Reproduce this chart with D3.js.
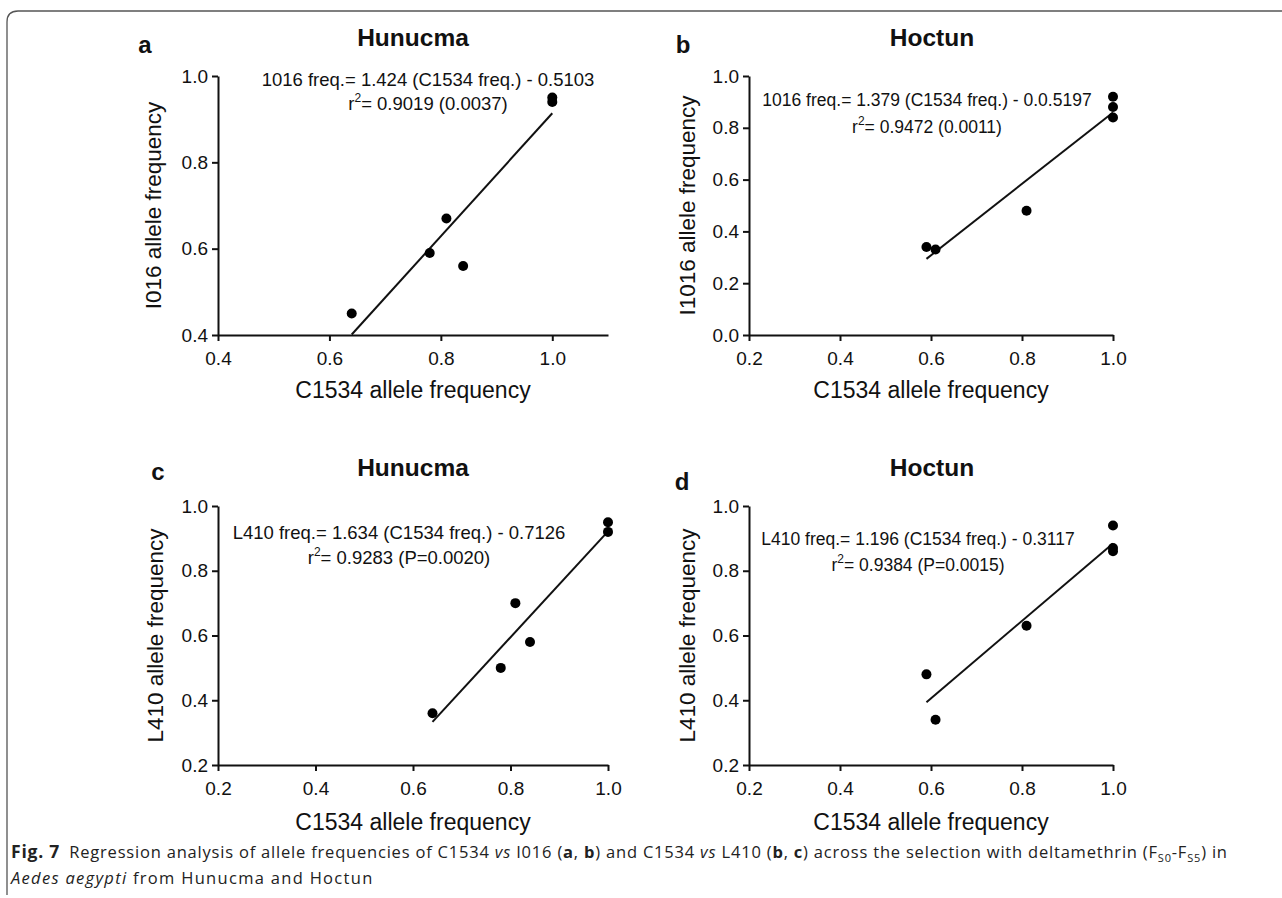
<!DOCTYPE html>
<html lang="en">
<head>
<meta charset="UTF-8">
<style>
  body { margin: 0; background: #fff; }
  svg { display: block; }
  text { font-family: "Liberation Sans", Arial, sans-serif; fill: #111; }
  .axis path, .axis line { stroke: #111; stroke-width: 2px; }
  .fit { stroke: #111; stroke-width: 2px; fill: none; }
  .caption { font-family: "Open Sans", sans-serif; font-size: 16.5px; fill: #222; letter-spacing: 0.8px; }
</style>
</head>
<body>
<script src="https://cdn.jsdelivr.net/npm/d3@7"></script>
<script>
// panel data (x = C1534 freq, y = other allele freq)
var panelLetters = ['a', 'b', 'c', 'd'];
var panelTitles = ['Hunucma', 'Hoctun', 'Hunucma', 'Hoctun'];
var yLabels = ['I016 allele frequency', 'I1016 allele frequency', 'L410 allele frequency', 'L410 allele frequency'];
var xLabel = 'C1534 allele frequency';

var aX = [0.64, 0.78, 0.81, 0.84, 1.0, 1.0];
var aY = [0.45, 0.59, 0.67, 0.56, 0.94, 0.95];
var bX = [0.59, 0.61, 0.81, 1.0, 1.0, 1.0];
var bY = [0.34, 0.33, 0.48, 0.92, 0.88, 0.84];
var cX = [0.64, 0.78, 0.81, 0.84, 1.0, 1.0];
var cY = [0.36, 0.50, 0.70, 0.58, 0.95, 0.92];
var dX = [0.59, 0.61, 0.81, 1.0, 1.0, 1.0];
var dY = [0.48, 0.34, 0.63, 0.94, 0.87, 0.86];

// regression: slope, intercept
var slopes = [1.424, 1.379, 1.634, 1.196];
var intercepts = [-0.5103, -0.5197, -0.7126, -0.3117];

var eqLines = [
  '1016 freq.= 1.424 (C1534 freq.) - 0.5103',
  '1016 freq.= 1.379 (C1534 freq.) - 0.0.5197',
  'L410 freq.= 1.634 (C1534 freq.) - 0.7126',
  'L410 freq.= 1.196 (C1534 freq.) - 0.3117'
];
var r2Lines = ['= 0.9019 (0.0037)', '= 0.9472 (0.0011)', '= 0.9283 (P=0.0020)', '= 0.9384 (P=0.0015)'];

var xDomains = [[0.4, 1.1], [0.2, 1.0], [0.2, 1.0], [0.2, 1.0]];
var yDomains = [[0.4, 1.0], [0.0, 1.0], [0.2, 1.0], [0.2, 1.0]];
var xTicks = [[0.4, 0.6, 0.8, 1.0], [0.2, 0.4, 0.6, 0.8, 1.0], [0.2, 0.4, 0.6, 0.8, 1.0], [0.2, 0.4, 0.6, 0.8, 1.0]];
var yTicks = [[0.4, 0.6, 0.8, 1.0], [0.0, 0.2, 0.4, 0.6, 0.8, 1.0], [0.2, 0.4, 0.6, 0.8, 1.0], [0.2, 0.4, 0.6, 0.8, 1.0]];

var width = 1282, height = 898;
var svg = d3.select('body').append('svg').attr('width', width).attr('height', height);

// frame
svg.append('path')
  .attr('d', 'M7,895 L7,22 Q7,11 18,11 L1282,11')
  .attr('fill', 'none').attr('stroke', '#555').attr('stroke-width', 1.3);

// layout of each panel
var layout = [
  {x0: 218, x1: 608, y0: 76, y1: 335, letter: [145, 53], title: [413, 46], eq: [428, 86], eqGap: 24, eqSize: 18.5, yl: 153, xl: 398},
  {x0: 749, x1: 1113, y0: 76, y1: 335, letter: [683, 53], title: [932, 46], eq: [927, 106], eqGap: 27, eqSize: 17.5, yl: 687, xl: 398},
  {x0: 218, x1: 608, y0: 506, y1: 765, letter: [158, 480], title: [413, 476], eq: [399, 539], eqGap: 25, eqSize: 18.5, yl: 155, xl: 830},
  {x0: 749, x1: 1113, y0: 506, y1: 765, letter: [682, 490], title: [932, 476], eq: [918, 545], eqGap: 26, eqSize: 17.5, yl: 687, xl: 830}
];

var seriesX = [aX, bX, cX, dX];
var seriesY = [aY, bY, cY, dY];

layout.forEach(function(L, i) {
  var x = d3.scaleLinear().domain(xDomains[i]).range([L.x0, L.x1]);
  var y = d3.scaleLinear().domain(yDomains[i]).range([L.y1, L.y0]);
  var g = svg.append('g');

  var xa = g.append('g').attr('class', 'axis')
    .attr('transform', 'translate(0,' + L.y1 + ')')
    .call(d3.axisBottom(x).tickValues(xTicks[i]).tickFormat(d3.format('.1f')).tickSize(6).tickSizeOuter(0).tickPadding(11));

  var ya = g.append('g').attr('class', 'axis')
    .attr('transform', 'translate(' + L.x0 + ',0)')
    .call(d3.axisLeft(y).tickValues(yTicks[i]).tickFormat(d3.format('.1f')).tickSize(6).tickSizeOuter(0).tickPadding(4));

  [xa, ya].forEach(function(a) {
    a.attr('font-family', null).attr('font-size', null);
    a.selectAll('.tick text')
      .style('font-family', '"Liberation Sans", Arial, sans-serif')
      .style('font-size', '19px').attr('fill', '#111');
    a.select('.domain').attr('stroke-width', 2.5);
  });

  // fit line between min and max x
  var xs = seriesX[i];
  var lx = d3.extent(xs);
  g.append('line').attr('class', 'fit')
    .attr('x1', x(lx[0])).attr('y1', y(slopes[i] * lx[0] + intercepts[i]))
    .attr('x2', x(lx[1])).attr('y2', y(slopes[i] * lx[1] + intercepts[i]));

  g.selectAll('circle.pt').data(xs).enter().append('circle')
    .attr('class', 'pt')
    .attr('cx', function(d) { return x(d); })
    .attr('cy', function(d, j) { return y(seriesY[i][j]); })
    .attr('r', 5).attr('fill', '#000');

  g.append('text').attr('x', L.letter[0]).attr('y', L.letter[1])
    .attr('text-anchor', 'middle').style('font-size', '24px').style('font-weight', 'bold')
    .text(panelLetters[i]);

  g.append('text').attr('x', L.title[0]).attr('y', L.title[1])
    .attr('text-anchor', 'middle').style('font-size', '24.5px').style('font-weight', 'bold')
    .text(panelTitles[i]);

  g.append('text').attr('x', L.eq[0]).attr('y', L.eq[1])
    .attr('text-anchor', 'middle').style('font-size', L.eqSize + 'px')
    .text(eqLines[i]);

  var r2 = g.append('text').attr('x', L.eq[0]).attr('y', L.eq[1] + L.eqGap)
    .attr('text-anchor', 'middle').style('font-size', L.eqSize + 'px');
  r2.append('tspan').text('r');
  r2.append('tspan').attr('dy', -8).style('font-size', '12px').text('2');
  r2.append('tspan').attr('dy', 8).text(r2Lines[i]);

  g.append('text')
    .attr('transform', 'translate(' + L.yl + ',' + ((L.y0 + L.y1) / 2) + ') rotate(-90)')
    .attr('text-anchor', 'middle').attr('dy', '0.35em').style('font-size', '22.5px')
    .text(yLabels[i]);

  g.append('text').attr('x', (L.x0 + L.x1) / 2).attr('y', L.xl)
    .attr('text-anchor', 'middle').style('font-size', '23px')
    .text(xLabel);
});

// caption
var cap = svg.append('text').attr('class', 'caption').attr('x', 11).attr('y', 858);
cap.append('tspan').style('font-weight', 'bold').style('font-size', '17.5px').text('Fig. 7');
cap.append('tspan').text('\u2002Regression analysis of allele frequencies of C1534 ');
cap.append('tspan').style('font-style', 'italic').text('vs');
cap.append('tspan').text(' I016 (');
cap.append('tspan').style('font-weight', 'bold').text('a');
cap.append('tspan').text(', ');
cap.append('tspan').style('font-weight', 'bold').text('b');
cap.append('tspan').text(') and C1534 ');
cap.append('tspan').style('font-style', 'italic').text('vs');
cap.append('tspan').text(' L410 (');
cap.append('tspan').style('font-weight', 'bold').text('b');
cap.append('tspan').text(', ');
cap.append('tspan').style('font-weight', 'bold').text('c');
cap.append('tspan').text(') across the selection with deltamethrin (F');
cap.append('tspan').attr('dy', 4).style('font-size', '11px').text('S0');
cap.append('tspan').attr('dy', -4).text('-F');
cap.append('tspan').attr('dy', 4).style('font-size', '11px').text('S5');
cap.append('tspan').attr('dy', -4).text(') in');

var cap2 = svg.append('text').attr('class', 'caption').attr('x', 11).attr('y', 884)
  .style('letter-spacing', '1.3px');
cap2.append('tspan').style('font-style', 'italic').text('Aedes aegypti');
cap2.append('tspan').text(' from Hunucma and Hoctun');
</script>
</body>
</html>
